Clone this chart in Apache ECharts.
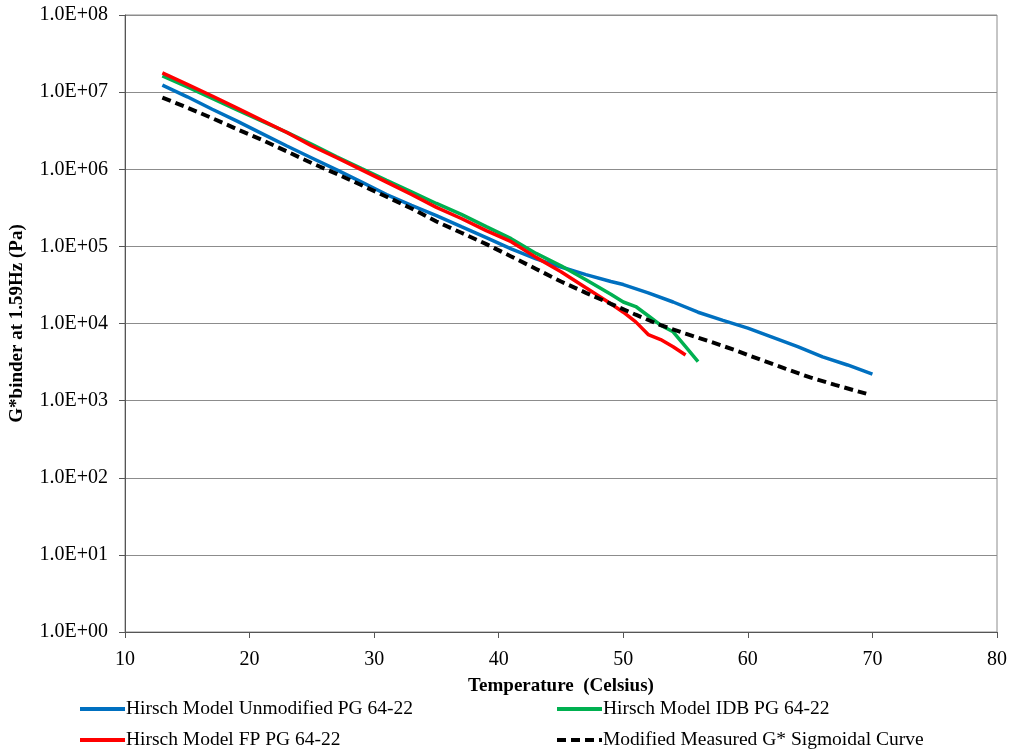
<!DOCTYPE html>
<html>
<head>
<meta charset="utf-8">
<script src="https://cdn.jsdelivr.net/npm/echarts@6/dist/echarts.min.js"></script>
<style>
  html, body { margin: 0; padding: 0; background: #fff; }
  #chart { width: 1014px; height: 753px; }
</style>
</head>
<body>
<div id="chart"></div>
<script>
    // series names, in Excel legend order
    const seriesNames = [
        'Hirsch Model Unmodified PG 64-22',
        'Hirsch Model IDB PG 64-22',
        'Hirsch Model FP PG 64-22',
        'Modified Measured G* Sigmoidal Curve'
    ];

    // [temperature (C), G* (Pa)]
    const unmodified = [
        [13, 1.23e7], [15, 8.7e6], [17, 6.0e6], [19, 4.2e6], [21, 2.9e6], [23, 2.0e6],
        [25, 1.4e6], [27, 9.8e5], [29, 6.8e5], [31, 4.7e5], [33, 3.4e5], [35, 2.5e5],
        [37, 1.8e5], [39, 1.3e5], [41, 9.3e4], [43, 6.9e4], [45, 5.4e4], [47, 4.3e4],
        [49, 3.5e4], [50, 3.2e4], [52, 2.5e4], [54, 1.9e4], [56, 1.4e4], [58, 1.1e4],
        [60, 8.7e3], [62, 6.6e3], [64, 5.0e3], [66, 3.7e3], [68, 2.9e3], [70, 2.2e3]
    ];

    const idb = [
        [13, 1.62e7], [15, 1.17e7], [17, 8.3e6], [19, 5.9e6], [21, 4.2e6], [23, 3.0e6],
        [25, 2.1e6], [27, 1.45e6], [29, 1.02e6], [31, 7.2e5], [33, 5.1e5], [35, 3.6e5],
        [37, 2.6e5], [39, 1.8e5], [41, 1.26e5], [43, 8.1e4], [45, 5.6e4], [47, 3.7e4],
        [49, 2.4e4], [50, 1.9e4], [51, 1.66e4], [52, 1.26e4], [53, 9.5e3], [54, 7.8e3],
        [55, 5.0e3], [56, 3.2e3]
    ];

    const fp = [
        [13, 1.78e7], [15, 1.26e7], [17, 8.9e6], [19, 6.2e6], [21, 4.3e6], [23, 3.0e6],
        [25, 2.0e6], [27, 1.41e6], [29, 9.8e5], [31, 6.8e5], [33, 4.7e5], [35, 3.2e5],
        [37, 2.3e5], [39, 1.6e5], [41, 1.15e5], [43, 7.2e4], [45, 4.7e4], [47, 2.9e4],
        [49, 1.8e4], [50, 1.4e4], [51, 1.05e4], [52, 7.2e3], [53, 6.2e3], [54, 5.0e3],
        [55, 3.9e3]
    ];

    const sigmoidal = [
        [13, 8.5e6], [15, 6.3e6], [17, 4.6e6], [19, 3.3e6], [21, 2.4e6], [23, 1.7e6],
        [25, 1.2e6], [27, 8.7e5], [29, 6.2e5], [31, 4.4e5], [33, 3.1e5], [35, 2.1e5],
        [37, 1.5e5], [39, 1.07e5], [41, 7.4e4], [43, 5.1e4], [45, 3.5e4], [47, 2.5e4],
        [49, 1.8e4], [51, 1.3e4], [53, 9.5e3], [55, 7.4e3], [57, 5.8e3], [59, 4.5e3],
        [61, 3.4e3], [63, 2.6e3], [65, 2.0e3], [67, 1.6e3], [69.5, 1.23e3]
    ];

    const xTicks = { min: 10, max: 80, interval: 10 };
    const yTicks = { min: 1, max: 1e8 };

    const colors = ['#0070C0', '#00B050', '#FF0000', '#000000'];
    const font = '"Liberation Serif", "Times New Roman", serif';

    function fnSciLabel(value) {
        let exp = Math.round(Math.log10(value));
        let sign = exp < 0 ? '-' : '+';
        let digits = String(Math.abs(exp)).padStart(2, '0');
        return '1.0E' + sign + digits;
    }

    function fnLineSeries(name, data, color, dashed) {
        return {
            name: name,
            type: 'line',
            data: data,
            symbol: 'none',
            smooth: false,
            animation: false,
            lineStyle: {
                color: color,
                width: dashed ? 4 : 3.5,
                type: dashed ? [9, 5] : 'solid',
                cap: 'butt'
            },
            itemStyle: { color: color }
        };
    }

    // one legend box per entry, placed like the Excel 2-column legend
    function fnLegend(name, left, top) {
        return {
            orient: 'horizontal',
            left: left,
            top: top,
            padding: 0,
            itemWidth: 45,
            itemHeight: 12,
            itemGap: 2,
            itemStyle: { opacity: 0 },
            lineStyle: { width: 4 },
            textStyle: { fontFamily: font, fontSize: 19.5, color: '#000', padding: [0, 0, 0, -4] },
            data: [name]
        };
    }

    let chartDom = document.getElementById('chart');
    let myChart = echarts.init(chartDom, null, { renderer: 'canvas' });

    let option = {
        backgroundColor: '#fff',
        animation: false,
        textStyle: { fontFamily: font },
        grid: {
            left: 125,
            right: 17,
            top: 15,
            bottom: 121,
            show: true,
            borderColor: '#8c8c8c',
            borderWidth: 1
        },
        legend: [
            fnLegend(seriesNames[0], 78, 699),
            fnLegend(seriesNames[1], 555, 699),
            fnLegend(seriesNames[2], 78, 730),
            fnLegend(seriesNames[3], 555, 730)
        ],
        xAxis: {
            type: 'value',
            min: xTicks.min,
            max: xTicks.max,
            interval: xTicks.interval,
            name: 'Temperature  (Celsius)',
            nameLocation: 'middle',
            nameGap: 45,
            nameTextStyle: { fontFamily: font, fontSize: 19, fontWeight: 'bold', color: '#000' },
            axisLine: { onZero: false, lineStyle: { color: '#555', width: 1 } },
            axisTick: { show: true, inside: false, length: 6, lineStyle: { color: '#555' } },
            axisLabel: { fontFamily: font, fontSize: 20, color: '#000', margin: 18 },
            splitLine: { show: false }
        },
        yAxis: {
            type: 'log',
            logBase: 10,
            min: yTicks.min,
            max: yTicks.max,
            interval: 1,
            name: 'G*binder at 1.59Hz (Pa)',
            nameLocation: 'middle',
            nameGap: 98,
            nameTextStyle: { fontFamily: font, fontSize: 19, fontWeight: 'bold', color: '#000' },
            axisLine: { show: true, lineStyle: { color: '#555', width: 1 } },
            axisTick: { show: true, inside: false, length: 6, lineStyle: { color: '#555' } },
            axisLabel: { fontFamily: font, fontSize: 20, color: '#000', margin: 17, formatter: fnSciLabel },
            splitLine: { show: true, lineStyle: { color: '#8c8c8c', width: 1 } }
        },
        series: [
            fnLineSeries(seriesNames[0], unmodified, colors[0], false),
            fnLineSeries(seriesNames[1], idb, colors[1], false),
            fnLineSeries(seriesNames[2], fp, colors[2], false),
            fnLineSeries(seriesNames[3], sigmoidal, colors[3], true)
        ]
    };

    myChart.setOption(option);

    window.addEventListener('resize', function () {
        myChart.resize();
    });
</script>
</body>
</html>
